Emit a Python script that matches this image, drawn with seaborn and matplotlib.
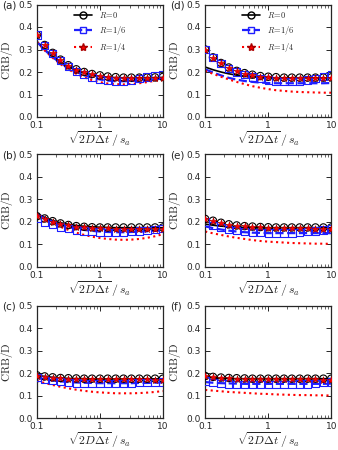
import matplotlib
matplotlib.use("Agg")
import matplotlib.pyplot as plt
from matplotlib.lines import Line2D
from matplotlib.ticker import FixedLocator, FixedFormatter
import seaborn as sns
import pandas as pd

# x grid (sqrt(2 D dt) / s_a), shared by all panels
x_vals = [0.1, 0.133, 0.178, 0.237, 0.316, 0.422, 0.562, 0.75, 1.0,
          1.33, 1.78, 2.37, 3.16, 4.22, 5.62, 7.5, 10.0]

panel_labels = ["(a)", "(b)", "(c)", "(d)", "(e)", "(f)"]
series_names = ["$R\\!=\\!0$", "$R\\!=\\!1/6$", "$R\\!=\\!1/4$"]

# analytic curves, one list per series, per panel
line_r0 = {
    "(a)": [0.335, 0.300, 0.270, 0.245, 0.224, 0.207, 0.195, 0.186, 0.180, 0.177, 0.175, 0.174, 0.174, 0.174, 0.175, 0.175, 0.176],
    "(b)": [0.237, 0.220, 0.206, 0.196, 0.189, 0.184, 0.180, 0.178, 0.176, 0.175, 0.174, 0.174, 0.174, 0.174, 0.174, 0.174, 0.174],
    "(c)": [0.190, 0.185, 0.181, 0.178, 0.176, 0.175, 0.175, 0.174, 0.174, 0.174, 0.174, 0.174, 0.174, 0.174, 0.174, 0.174, 0.174],
    "(d)": [0.222, 0.210, 0.200, 0.192, 0.186, 0.181, 0.178, 0.176, 0.175, 0.174, 0.174, 0.174, 0.174, 0.174, 0.174, 0.174, 0.174],
    "(e)": [0.190, 0.185, 0.181, 0.178, 0.176, 0.175, 0.175, 0.174, 0.174, 0.174, 0.174, 0.174, 0.174, 0.174, 0.174, 0.174, 0.174],
    "(f)": [0.182, 0.179, 0.177, 0.176, 0.175, 0.175, 0.175, 0.175, 0.175, 0.175, 0.175, 0.175, 0.175, 0.175, 0.175, 0.175, 0.175],
}
line_r16 = {
    "(a)": [0.335, 0.298, 0.266, 0.240, 0.218, 0.200, 0.186, 0.175, 0.167, 0.162, 0.159, 0.159, 0.160, 0.162, 0.165, 0.168, 0.172],
    "(b)": [0.235, 0.216, 0.200, 0.187, 0.177, 0.170, 0.164, 0.160, 0.157, 0.155, 0.154, 0.154, 0.155, 0.156, 0.158, 0.160, 0.162],
    "(c)": [0.178, 0.172, 0.167, 0.163, 0.160, 0.158, 0.157, 0.156, 0.155, 0.155, 0.155, 0.155, 0.155, 0.156, 0.156, 0.157, 0.158],
    "(d)": [0.212, 0.198, 0.185, 0.174, 0.166, 0.160, 0.156, 0.153, 0.151, 0.150, 0.150, 0.150, 0.150, 0.150, 0.150, 0.150, 0.151],
    "(e)": [0.180, 0.172, 0.166, 0.161, 0.157, 0.154, 0.152, 0.151, 0.150, 0.150, 0.150, 0.150, 0.150, 0.150, 0.150, 0.150, 0.150],
    "(f)": [0.160, 0.157, 0.155, 0.154, 0.153, 0.152, 0.152, 0.152, 0.152, 0.152, 0.152, 0.152, 0.152, 0.152, 0.152, 0.152, 0.153],
}
line_r14 = {
    "(a)": [0.335, 0.296, 0.263, 0.235, 0.212, 0.192, 0.176, 0.164, 0.155, 0.149, 0.146, 0.145, 0.147, 0.150, 0.155, 0.161, 0.167],
    "(b)": [0.233, 0.212, 0.194, 0.178, 0.164, 0.152, 0.142, 0.134, 0.128, 0.124, 0.121, 0.120, 0.121, 0.124, 0.129, 0.136, 0.145],
    "(c)": [0.165, 0.156, 0.147, 0.139, 0.132, 0.126, 0.121, 0.117, 0.114, 0.112, 0.110, 0.110, 0.110, 0.111, 0.113, 0.116, 0.120],
    "(d)": [0.205, 0.192, 0.179, 0.167, 0.156, 0.146, 0.137, 0.130, 0.124, 0.119, 0.116, 0.113, 0.111, 0.110, 0.109, 0.108, 0.108],
    "(e)": [0.157, 0.149, 0.142, 0.135, 0.129, 0.124, 0.119, 0.115, 0.112, 0.110, 0.108, 0.106, 0.105, 0.104, 0.103, 0.103, 0.102],
    "(f)": [0.125, 0.122, 0.119, 0.116, 0.114, 0.112, 0.110, 0.108, 0.107, 0.105, 0.104, 0.103, 0.102, 0.102, 0.101, 0.101, 0.100],
}

# simulated points
mk_r0 = {
    "(a)": [0.365, 0.320, 0.285, 0.255, 0.230, 0.212, 0.200, 0.191, 0.185, 0.180, 0.177, 0.175, 0.175, 0.175, 0.175, 0.176, 0.178],
    "(b)": [0.225, 0.215, 0.203, 0.193, 0.186, 0.181, 0.178, 0.176, 0.175, 0.175, 0.175, 0.175, 0.175, 0.175, 0.175, 0.175, 0.175],
    "(c)": [0.190, 0.185, 0.181, 0.178, 0.177, 0.176, 0.175, 0.175, 0.175, 0.175, 0.175, 0.175, 0.175, 0.175, 0.175, 0.175, 0.175],
    "(d)": [0.300, 0.265, 0.240, 0.220, 0.205, 0.195, 0.188, 0.182, 0.179, 0.177, 0.175, 0.175, 0.175, 0.175, 0.175, 0.175, 0.176],
    "(e)": [0.213, 0.205, 0.196, 0.189, 0.184, 0.181, 0.179, 0.177, 0.176, 0.175, 0.175, 0.175, 0.175, 0.175, 0.175, 0.175, 0.175],
    "(f)": [0.187, 0.183, 0.180, 0.178, 0.177, 0.176, 0.175, 0.175, 0.175, 0.175, 0.175, 0.175, 0.175, 0.175, 0.175, 0.175, 0.175],
}
mk_r16 = {
    "(a)": [0.365, 0.318, 0.282, 0.250, 0.223, 0.203, 0.188, 0.177, 0.168, 0.163, 0.160, 0.160, 0.163, 0.170, 0.178, 0.185, 0.190],
    "(b)": [0.215, 0.200, 0.187, 0.177, 0.170, 0.164, 0.160, 0.157, 0.155, 0.154, 0.154, 0.155, 0.157, 0.160, 0.163, 0.167, 0.170],
    "(c)": [0.180, 0.172, 0.166, 0.161, 0.158, 0.156, 0.155, 0.154, 0.154, 0.154, 0.154, 0.155, 0.156, 0.157, 0.158, 0.159, 0.160],
    "(d)": [0.300, 0.265, 0.238, 0.216, 0.200, 0.188, 0.178, 0.170, 0.164, 0.160, 0.158, 0.158, 0.160, 0.165, 0.172, 0.180, 0.188],
    "(e)": [0.200, 0.185, 0.174, 0.166, 0.161, 0.157, 0.154, 0.152, 0.151, 0.150, 0.150, 0.151, 0.153, 0.156, 0.160, 0.164, 0.168],
    "(f)": [0.165, 0.158, 0.154, 0.152, 0.150, 0.150, 0.150, 0.150, 0.150, 0.150, 0.150, 0.150, 0.151, 0.152, 0.154, 0.157, 0.160],
}
mk_r14 = {
    "(a)": [0.363, 0.318, 0.283, 0.253, 0.228, 0.210, 0.198, 0.190, 0.183, 0.178, 0.175, 0.173, 0.172, 0.172, 0.172, 0.173, 0.175],
    "(b)": [0.225, 0.213, 0.201, 0.191, 0.184, 0.179, 0.176, 0.174, 0.172, 0.171, 0.170, 0.170, 0.170, 0.170, 0.170, 0.170, 0.170],
    "(c)": [0.188, 0.183, 0.179, 0.177, 0.175, 0.174, 0.173, 0.173, 0.172, 0.172, 0.172, 0.172, 0.172, 0.172, 0.172, 0.171, 0.170],
    "(d)": [0.298, 0.264, 0.238, 0.218, 0.203, 0.193, 0.186, 0.180, 0.177, 0.175, 0.173, 0.172, 0.172, 0.172, 0.172, 0.172, 0.173],
    "(e)": [0.212, 0.204, 0.195, 0.188, 0.183, 0.180, 0.177, 0.175, 0.174, 0.173, 0.172, 0.172, 0.171, 0.171, 0.170, 0.170, 0.168],
    "(f)": [0.185, 0.181, 0.178, 0.176, 0.175, 0.174, 0.173, 0.172, 0.172, 0.172, 0.172, 0.172, 0.172, 0.172, 0.172, 0.171, 0.170],
}

y_ticks = [0.0, 0.1, 0.2, 0.3, 0.4, 0.5]
x_ticks = [0.1, 1, 10]
x_tick_labels = ["0.1", "1", "10"]

sns.set_style("ticks")
plt.rcParams["font.family"] = ["DejaVu Sans"]
plt.rcParams["mathtext.fontset"] = "cm"

fig = plt.figure(figsize=(3.38, 4.5), dpi=100)

col_x = {"(a)": 0.109, "(b)": 0.109, "(c)": 0.109, "(d)": 0.607, "(e)": 0.607, "(f)": 0.607}
row_y = {"(a)": 0.740, "(b)": 0.407, "(c)": 0.071, "(d)": 0.740, "(e)": 0.407, "(f)": 0.071}
w, h = 0.373, 0.250

line_styles = [("black", "-", 1.2), ("#1f1fff", "--", 1.6), ("red", ":", 1.5)]

for lab in panel_labels:
    ax = fig.add_axes([col_x[lab], row_y[lab], w, h])
    df = pd.DataFrame({
        "x": x_vals * 3,
        "y": line_r0[lab] + line_r16[lab] + line_r14[lab],
        "s": [series_names[0]] * 17 + [series_names[1]] * 17 + [series_names[2]] * 17,
    })
    for name, (c, ls, lw) in zip(series_names, line_styles):
        sub = df[df["s"] == name]
        sns.lineplot(data=sub, x="x", y="y", ax=ax, color=c, linestyle=ls,
                     linewidth=lw, legend=False, zorder=2)

    sns.scatterplot(x=x_vals, y=mk_r0[lab], ax=ax, marker="o", s=28,
                    facecolor="none", edgecolor="black", linewidth=0.8, zorder=3)
    sns.scatterplot(x=x_vals, y=mk_r16[lab], ax=ax, marker="s", s=28,
                    facecolor="none", edgecolor="#1f1fff", linewidth=0.8, zorder=4)
    sns.scatterplot(x=x_vals, y=mk_r14[lab], ax=ax, marker="*", s=30,
                    color="red", edgecolor="#aa0000", linewidth=0.4, zorder=5)

    ax.set_xscale("log")
    ax.set_xlim(0.1, 10)
    ax.set_ylim(0, 0.5)
    ax.set_yticks(y_ticks)
    ax.set_yticklabels([f"{t:.1f}" for t in y_ticks])
    ax.xaxis.set_major_locator(FixedLocator(x_ticks))
    ax.xaxis.set_major_formatter(FixedFormatter(x_tick_labels))
    ax.tick_params(which="both", direction="in", top=True, right=True, labelsize=6.5, pad=3)
    ax.tick_params(which="major", length=3.5, width=0.7)
    ax.tick_params(which="minor", length=2, width=0.5)
    for sp in ax.spines.values():
        sp.set_linewidth(0.9)
    ax.set_ylabel("$\\mathrm{CRB/D}$", fontsize=8)
    ax.yaxis.set_label_coords(-0.175, 0.5)
    ax.set_xlabel("$\\sqrt{2D\\Delta t}\\,/\\,s_a$", fontsize=8.5)
    ax.xaxis.set_label_coords(0.5, -0.11)

    fig.text(col_x[lab] - 0.104, row_y[lab] + h - 0.002, lab, fontsize=7.5, va="center", ha="left")

    if lab in ("(a)", "(d)"):
        handles = [
            Line2D([], [], color="black", ls="-", lw=1.2, marker="o", mfc="none", mec="black", ms=5),
            Line2D([], [], color="#1f1fff", ls="--", lw=1.6, marker="s", mfc="none", mec="#1f1fff", ms=5),
            Line2D([], [], color="red", ls=":", lw=1.5, marker="*", mfc="red", mec="#aa0000", ms=6),
        ]
        ax.legend(handles, series_names, loc="upper center", bbox_to_anchor=(0.5, 1.0),
                  frameon=False, fontsize=6, handlelength=2.2, numpoints=1,
                  labelspacing=0.45, borderaxespad=0.3)

fig.savefig("out.png", dpi=100)
